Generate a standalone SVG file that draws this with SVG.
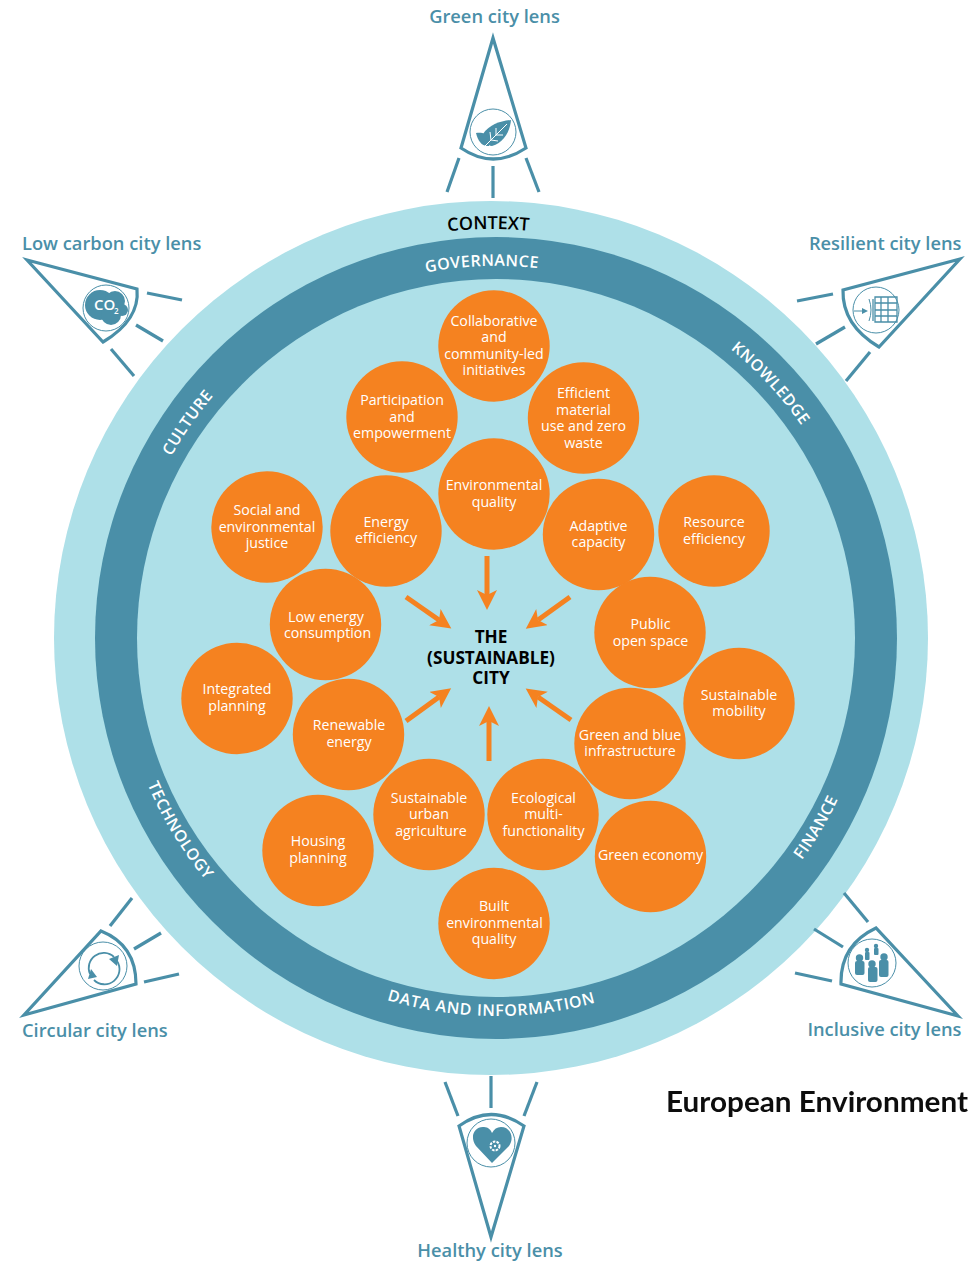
<svg xmlns="http://www.w3.org/2000/svg" width="970" height="1263" viewBox="0 0 970 1263">
<style>
text{font-family:"Open Sans","Noto Sans","DejaVu Sans",sans-serif}
.n circle{fill:#f58220}
.n text{fill:#fff;font-size:14.2px;text-anchor:middle}
.lab{fill:#4a8fa8;font-size:18.3px;font-weight:600}
.ring{fill:#fff;font-size:16px;font-weight:600;text-anchor:middle;letter-spacing:.5px}
.c{fill:#000;font-size:17.2px;font-weight:700;text-anchor:middle}
.lens path.o,.lens line{fill:none;stroke:#4a8fa8;stroke-width:3.2}
.lens circle.h{fill:none;stroke:#4a8fa8;stroke-width:1}
.ic{fill:#4a8fa8}
.ar{stroke:#f58220;stroke-width:5;fill:none;marker-end:url(#ah)}
</style>
<defs>
<marker id="ah" markerUnits="userSpaceOnUse" markerWidth="22" markerHeight="22" refX="5" refY="10" orient="auto"><path d="M0 0L20 10L0 20L5 10Z" fill="#f58220"/></marker>
<path id="cw" d="M124 638A372 372 0 1 1 868 638A372 372 0 1 1 124 638Z"/>
<path id="cx" d="M82 638A409 409 0 1 1 900 638A409 409 0 1 1 82 638Z"/>
<path id="ccw" d="M118 638A378 378 0 1 0 874 638A378 378 0 1 0 118 638Z"/>
<filter id="soft"><feGaussianBlur stdDeviation="0.6"/></filter>
</defs>
<g id="rings">
<circle cx="491" cy="638" r="437" fill="#aee0e8"/>
<circle cx="496" cy="638" r="401" fill="#4a8fa8"/>
<circle cx="496" cy="638" r="359" fill="#aee0e8"/>
<text style="fill:#000;font-size:18px;font-weight:600;text-anchor:middle"><textPath href="#cx" startOffset="24.9%">CONTEXT</textPath></text>
<text class="ring"><textPath href="#cw" startOffset="24.4%">GOVERNANCE</textPath></text>
<text class="ring"><textPath href="#cw" startOffset="38.1%">KNOWLEDGE</textPath></text>
<text class="ring"><textPath href="#cw" startOffset="9.7%">CULTURE</textPath></text>
<text class="ring"><textPath href="#ccw" startOffset="8.7%">TECHNOLOGY</textPath></text>
<text class="ring" style="letter-spacing:.7px"><textPath href="#ccw" startOffset="24.8%">DATA AND INFORMATION</textPath></text>
<text class="ring"><textPath href="#ccw" startOffset="41.5%">FINANCE</textPath></text>
</g>
<g id="connectors">
<line class="ar" x1="487" y1="556" x2="487" y2="595"/>
<line class="ar" x1="406" y1="597" x2="439" y2="620"/>
<line class="ar" x1="570" y1="597" x2="538" y2="620"/>
<line class="ar" x1="406" y1="721" x2="439" y2="697"/>
<line class="ar" x1="571" y1="720" x2="538" y2="697"/>
<line class="ar" x1="489" y1="761" x2="489" y2="721"/>
</g>
<g id="city"><text class="c"><tspan x="491" y="643">THE</tspan><tspan x="491" y="664">(SUSTAINABLE)</tspan><tspan x="491" y="684">CITY</tspan></text></g>
<g id="n1" class="n"><circle cx="494" cy="346" r="55.7"/><text><tspan x="494" y="326">Collaborative</tspan><tspan x="494" y="342">and</tspan><tspan x="494" y="359">community-led</tspan><tspan x="494" y="375">initiatives</tspan></text></g>
<g id="n2" class="n"><circle cx="402" cy="417" r="55.7"/><text><tspan x="402" y="405">Participation</tspan><tspan x="402" y="422">and</tspan><tspan x="402" y="438">empowerment</tspan></text></g>
<g id="n3" class="n"><circle cx="583.500" cy="418" r="55.7"/><text><tspan x="583.500" y="398">Efficient</tspan><tspan x="583.500" y="415">material</tspan><tspan x="583.500" y="431">use and zero</tspan><tspan x="583.500" y="448">waste</tspan></text></g>
<g id="n4" class="n"><circle cx="494" cy="494" r="55.7"/><text><tspan x="494" y="490">Environmental</tspan><tspan x="494" y="507">quality</tspan></text></g>
<g id="n5" class="n"><circle cx="386" cy="531" r="55.7"/><text><tspan x="386" y="527">Energy</tspan><tspan x="386" y="543">efficiency</tspan></text></g>
<g id="n6" class="n"><circle cx="598.500" cy="534.500" r="55.7"/><text><tspan x="598.500" y="531">Adaptive</tspan><tspan x="598.500" y="547">capacity</tspan></text></g>
<g id="n7" class="n"><circle cx="714" cy="531" r="55.7"/><text><tspan x="714" y="527">Resource</tspan><tspan x="714" y="544">efficiency</tspan></text></g>
<g id="n8" class="n"><circle cx="267" cy="527" r="55.7"/><text><tspan x="267" y="515">Social and</tspan><tspan x="267" y="532">environmental</tspan><tspan x="267" y="548">justice</tspan></text></g>
<g id="n9" class="n"><circle cx="325.500" cy="624.500" r="55.7"/><text><tspan x="326" y="622">Low energy</tspan><tspan x="327.500" y="638">consumption</tspan></text></g>
<g id="n10" class="n"><circle cx="650" cy="632.500" r="55.7"/><text><tspan x="650.500" y="629">Public</tspan><tspan x="650.500" y="646">open space</tspan></text></g>
<g id="n11" class="n"><circle cx="237" cy="698.500" r="55.7"/><text><tspan x="237" y="694">Integrated</tspan><tspan x="237" y="711">planning</tspan></text></g>
<g id="n12" class="n"><circle cx="348.500" cy="734.500" r="55.7"/><text><tspan x="349" y="730">Renewable</tspan><tspan x="349" y="747">energy</tspan></text></g>
<g id="n13" class="n"><circle cx="739" cy="703.500" r="55.7"/><text><tspan x="739" y="700">Sustainable</tspan><tspan x="739" y="716">mobility</tspan></text></g>
<g id="n14" class="n"><circle cx="630" cy="743.500" r="55.7"/><text><tspan x="630" y="740">Green and blue</tspan><tspan x="630" y="756">infrastructure</tspan></text></g>
<g id="n15" class="n"><circle cx="429" cy="814.500" r="55.7"/><text><tspan x="429" y="803">Sustainable</tspan><tspan x="429" y="819">urban</tspan><tspan x="431" y="836">agriculture</tspan></text></g>
<g id="n16" class="n"><circle cx="543" cy="814.500" r="55.7"/><text><tspan x="543.500" y="803">Ecological</tspan><tspan x="543.500" y="819">multi-</tspan><tspan x="543.500" y="836">functionality</tspan></text></g>
<g id="n17" class="n"><circle cx="318" cy="850.500" r="55.7"/><text><tspan x="318" y="846">Housing</tspan><tspan x="318" y="863">planning</tspan></text></g>
<g id="n18" class="n"><circle cx="650.500" cy="856.500" r="55.7"/><text><tspan x="650.500" y="860">Green economy</tspan></text></g>
<g id="n19" class="n"><circle cx="494" cy="923.500" r="55.7"/><text><tspan x="494" y="911">Built</tspan><tspan x="494.500" y="928">environmental</tspan><tspan x="494" y="944">quality</tspan></text></g>

<g id="lens-green" class="lens">
<text class="lab" x="494.500" y="23" text-anchor="middle">Green city lens</text>
<path class="o" d="M461 148L493 38L526 148Q493 170 461 148Z"/>
<line x1="459" y1="158" x2="447" y2="192"/><line x1="493" y1="166" x2="493" y2="198"/><line x1="526" y1="158" x2="539" y2="192"/>
<circle class="h" cx="493" cy="132" r="23"/>
<path class="ic" d="M483 134C489 125 500 121 511 120C510 131 504 143 492 146C487 146 484 141 483 134Z"/>
<path class="ic" d="M476 133C482 132 487 134 489 138L489 146C482 147 478 141 476 133Z"/>
<path d="M484 147L507 124M491 140L490 132M496 135L496 128M496 135L503 135M491 140L498 141" stroke="#fff" stroke-width="1" fill="none"/>
</g>
<g id="lens-lowcarbon" class="lens">
<text class="lab" x="22" y="250">Low carbon city lens</text>
<path class="o" d="M27 260L137 289Q140 320 103 342Z"/>
<line x1="147" y1="293" x2="182" y2="300"/><line x1="136" y1="325" x2="163" y2="341"/><line x1="111" y1="349" x2="134" y2="376"/>
<circle class="h" cx="106" cy="308" r="23"/>
<g class="ic"><circle cx="100" cy="305" r="15"/><circle cx="115" cy="301" r="10"/><circle cx="122" cy="310" r="6"/><circle cx="111" cy="315" r="10"/></g>
<text x="94" y="310" fill="#fff" font-size="15" font-weight="600">CO</text><text x="114" y="314" fill="#fff" font-size="8" font-weight="600">2</text>
</g>
<g id="lens-resilient" class="lens">
<text class="lab" x="961.500" y="250" text-anchor="end">Resilient city lens</text>
<path class="o" d="M960 259L843 290Q842 325 879 347Z"/>
<line x1="797" y1="301" x2="833" y2="294"/><line x1="816" y1="344" x2="845" y2="327"/><line x1="846" y1="381" x2="870" y2="352"/>
<circle class="h" cx="876" cy="310" r="23"/>
<path d="M875 297H897V322H875ZM881 297V322M888 297V322M875 303H897M875 310H897M875 316H897M873 299V321" fill="none" stroke="#4a8fa8" stroke-width="1.300"/>
<path d="M854 311H863" stroke="#4a8fa8" stroke-width="1"/><path class="ic" d="M868 311L862 308V314Z"/>
<path d="M869 299Q873 310 869 321" fill="none" stroke="#4a8fa8" stroke-width="1"/>
</g>
<g id="lens-circular" class="lens">
<text class="lab" x="22" y="1037">Circular city lens</text>
<path class="o" d="M24 1015L136 984Q136 945 101 931Z"/>
<line x1="110" y1="926" x2="132" y2="898"/><line x1="134" y1="949" x2="161" y2="933"/><line x1="144" y1="982" x2="179" y2="974"/>
<circle class="h" cx="103" cy="966" r="24"/>
<path d="M90 974A15 15 0 0 1 114 957M117 961A15 15 0 0 1 94 980" fill="none" stroke="#4a8fa8" stroke-width="1.800"/>
<path class="ic" d="M109 959L119 955L117 966ZM97 977L88 979L91 969Z"/>
</g>
<g id="lens-inclusive" class="lens">
<text class="lab" x="961.500" y="1036" text-anchor="end">Inclusive city lens</text>
<path class="o" d="M958 1016L841 984Q840 945 876 928Z"/>
<line x1="844" y1="893" x2="868" y2="922"/><line x1="814" y1="929" x2="843" y2="947"/><line x1="795" y1="973" x2="832" y2="981"/>
<circle class="h" cx="872" cy="963" r="24"/>
<g class="ic"><circle cx="859.500" cy="958" r="3.700"/><rect x="855" y="961" width="9.500" height="14" rx="2"/><circle cx="884" cy="957" r="3.700"/><rect x="879" y="960" width="9.500" height="17" rx="2"/><circle cx="872" cy="964" r="3.700"/><rect x="868" y="967" width="9.500" height="15" rx="2"/><circle cx="867" cy="950" r="2.200"/><rect x="865" y="952" width="4.500" height="8" rx="1"/><circle cx="876" cy="946" r="2.200"/><rect x="874" y="948" width="4.500" height="7" rx="1"/></g>
</g>
<g id="lens-healthy" class="lens">
<text class="lab" x="490" y="1257" text-anchor="middle">Healthy city lens</text>
<path class="o" d="M459 1126Q491 1103 524 1126L491 1237Z"/>
<line x1="445" y1="1082" x2="458" y2="1116"/><line x1="491" y1="1076" x2="491" y2="1108"/><line x1="537" y1="1082" x2="524" y2="1116"/>
<circle class="h" cx="491" cy="1143" r="24"/>
<path class="ic" d="M492 1163L476 1146C469 1136 475 1126 484 1127C488 1127 491 1130 492 1133C494 1129 497 1127 501 1127C510 1127 515 1137 509 1146Z"/>
<circle cx="495" cy="1146" r="4.500" fill="none" stroke="#fff" stroke-width="2" stroke-dasharray="2.500 1.200"/><circle cx="495" cy="1146" r="1.200" fill="#fff"/>
</g>
<g id="logo"><text x="666" y="1112" style="font-family:Lato,'Open Sans',sans-serif" font-size="28" font-weight="700" fill="#111" textLength="302" lengthAdjust="spacingAndGlyphs" filter="url(#soft)">European Environment</text></g>
</svg>
